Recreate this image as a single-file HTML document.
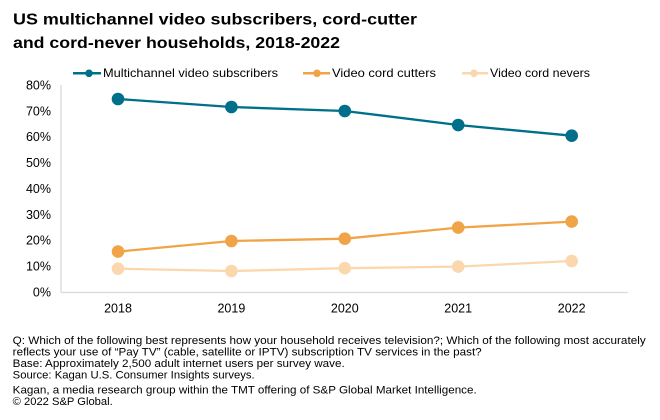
<!DOCTYPE html>
<html><head><meta charset="utf-8"><style>
html,body{margin:0;padding:0;background:#fff;}
svg{display:block;}
text{font-family:"Liberation Sans",Arial,sans-serif;fill:#000;}
</style></head><body>
<svg width="660" height="420" viewBox="0 0 660 420" xmlns="http://www.w3.org/2000/svg">
<rect width="660" height="420" fill="#fff"/>
<!-- Title -->
<text x="13" y="24.5" font-size="16" font-weight="bold" textLength="404" lengthAdjust="spacingAndGlyphs">US multichannel video subscribers, cord-cutter</text>
<text x="13" y="48" font-size="16" font-weight="bold" textLength="327" lengthAdjust="spacingAndGlyphs">and cord-never households, 2018-2022</text>

<!-- Legend -->
<line x1="73" y1="73.3" x2="101" y2="73.3" stroke="#006f8a" stroke-width="2.5"/>
<circle cx="89" cy="73.3" r="3.8" fill="#006f8a"/>
<text x="103" y="77" font-size="12" textLength="175" lengthAdjust="spacingAndGlyphs">Multichannel video subscribers</text>
<line x1="303" y1="73.3" x2="330" y2="73.3" stroke="#f1a447" stroke-width="2.5"/>
<circle cx="317" cy="73.3" r="3.8" fill="#f1a447"/>
<text x="332" y="77" font-size="12" textLength="104" lengthAdjust="spacingAndGlyphs">Video cord cutters</text>
<line x1="462" y1="73.3" x2="488" y2="73.3" stroke="#fbd7ad" stroke-width="2.5"/>
<circle cx="474" cy="73.3" r="3.8" fill="#fbd7ad"/>
<text x="490" y="77" font-size="12" textLength="100" lengthAdjust="spacingAndGlyphs">Video cord nevers</text>

<!-- Axes -->
<line x1="61" y1="85" x2="61" y2="292.5" stroke="#d9d9d9" stroke-width="1.3"/>
<line x1="61" y1="292.5" x2="628" y2="292.5" stroke="#d9d9d9" stroke-width="1.3"/>

<!-- Y labels -->
<g font-size="12.5" text-anchor="end">
<text x="51" y="296.5">0%</text>
<text x="51" y="270.6">10%</text>
<text x="51" y="244.7">20%</text>
<text x="51" y="218.9">30%</text>
<text x="51" y="193">40%</text>
<text x="51" y="167.1">50%</text>
<text x="51" y="141.2">60%</text>
<text x="51" y="115.4">70%</text>
<text x="51" y="89.5">80%</text>
</g>

<!-- X labels -->
<g font-size="12.5" text-anchor="middle">
<text x="118" y="312.5">2018</text>
<text x="231.4" y="312.5">2019</text>
<text x="344.8" y="312.5">2020</text>
<text x="458.2" y="312.5">2021</text>
<text x="571.7" y="312.5">2022</text>
</g>

<!-- Series: nevers -->
<polyline points="118,268.7 231.4,271 344.8,268.2 458.2,266.6 571.7,261" fill="none" stroke="#fbd7ad" stroke-width="2.3"/>
<g fill="#fbd7ad">
<circle cx="118" cy="268.7" r="6.3"/><circle cx="231.4" cy="271" r="6.3"/><circle cx="344.8" cy="268.2" r="6.3"/><circle cx="458.2" cy="266.6" r="6.3"/><circle cx="571.7" cy="261" r="6.3"/>
</g>
<!-- Series: cutters -->
<polyline points="118,251.6 231.4,241 344.8,238.7 458.2,227.6 571.7,221.6" fill="none" stroke="#f1a447" stroke-width="2.3"/>
<g fill="#f1a447">
<circle cx="118" cy="251.6" r="6.3"/><circle cx="231.4" cy="241" r="6.3"/><circle cx="344.8" cy="238.7" r="6.3"/><circle cx="458.2" cy="227.6" r="6.3"/><circle cx="571.7" cy="221.6" r="6.3"/>
</g>
<!-- Series: multichannel -->
<polyline points="118,99 231.4,107 344.8,111 458.2,125 571.7,135.7" fill="none" stroke="#006f8a" stroke-width="2.3"/>
<g fill="#006f8a">
<circle cx="118" cy="99" r="6.3"/><circle cx="231.4" cy="107" r="6.3"/><circle cx="344.8" cy="111" r="6.3"/><circle cx="458.2" cy="125" r="6.3"/><circle cx="571.7" cy="135.7" r="6.3"/>
</g>

<!-- Footnotes -->
<g font-size="11">
<text x="12.7" y="344" textLength="633" lengthAdjust="spacingAndGlyphs">Q: Which of the following best represents how your household receives television?; Which of the following most accurately</text>
<text x="12.7" y="355.7" textLength="469" lengthAdjust="spacingAndGlyphs">reflects your use of “Pay TV” (cable, satellite or IPTV) subscription TV services in the past?</text>
<text x="12.7" y="367" textLength="332" lengthAdjust="spacingAndGlyphs">Base: Approximately 2,500 adult internet users per survey wave.</text>
<text x="12.7" y="378.3" textLength="242" lengthAdjust="spacingAndGlyphs">Source: Kagan U.S. Consumer Insights surveys.</text>
<text x="12.7" y="393.3" textLength="464" lengthAdjust="spacingAndGlyphs">Kagan, a media research group within the TMT offering of S&amp;P Global Market Intelligence.</text>
<text x="12.7" y="405" textLength="100" lengthAdjust="spacingAndGlyphs">© 2022 S&amp;P Global.</text>
</g>
</svg>
</body></html>
